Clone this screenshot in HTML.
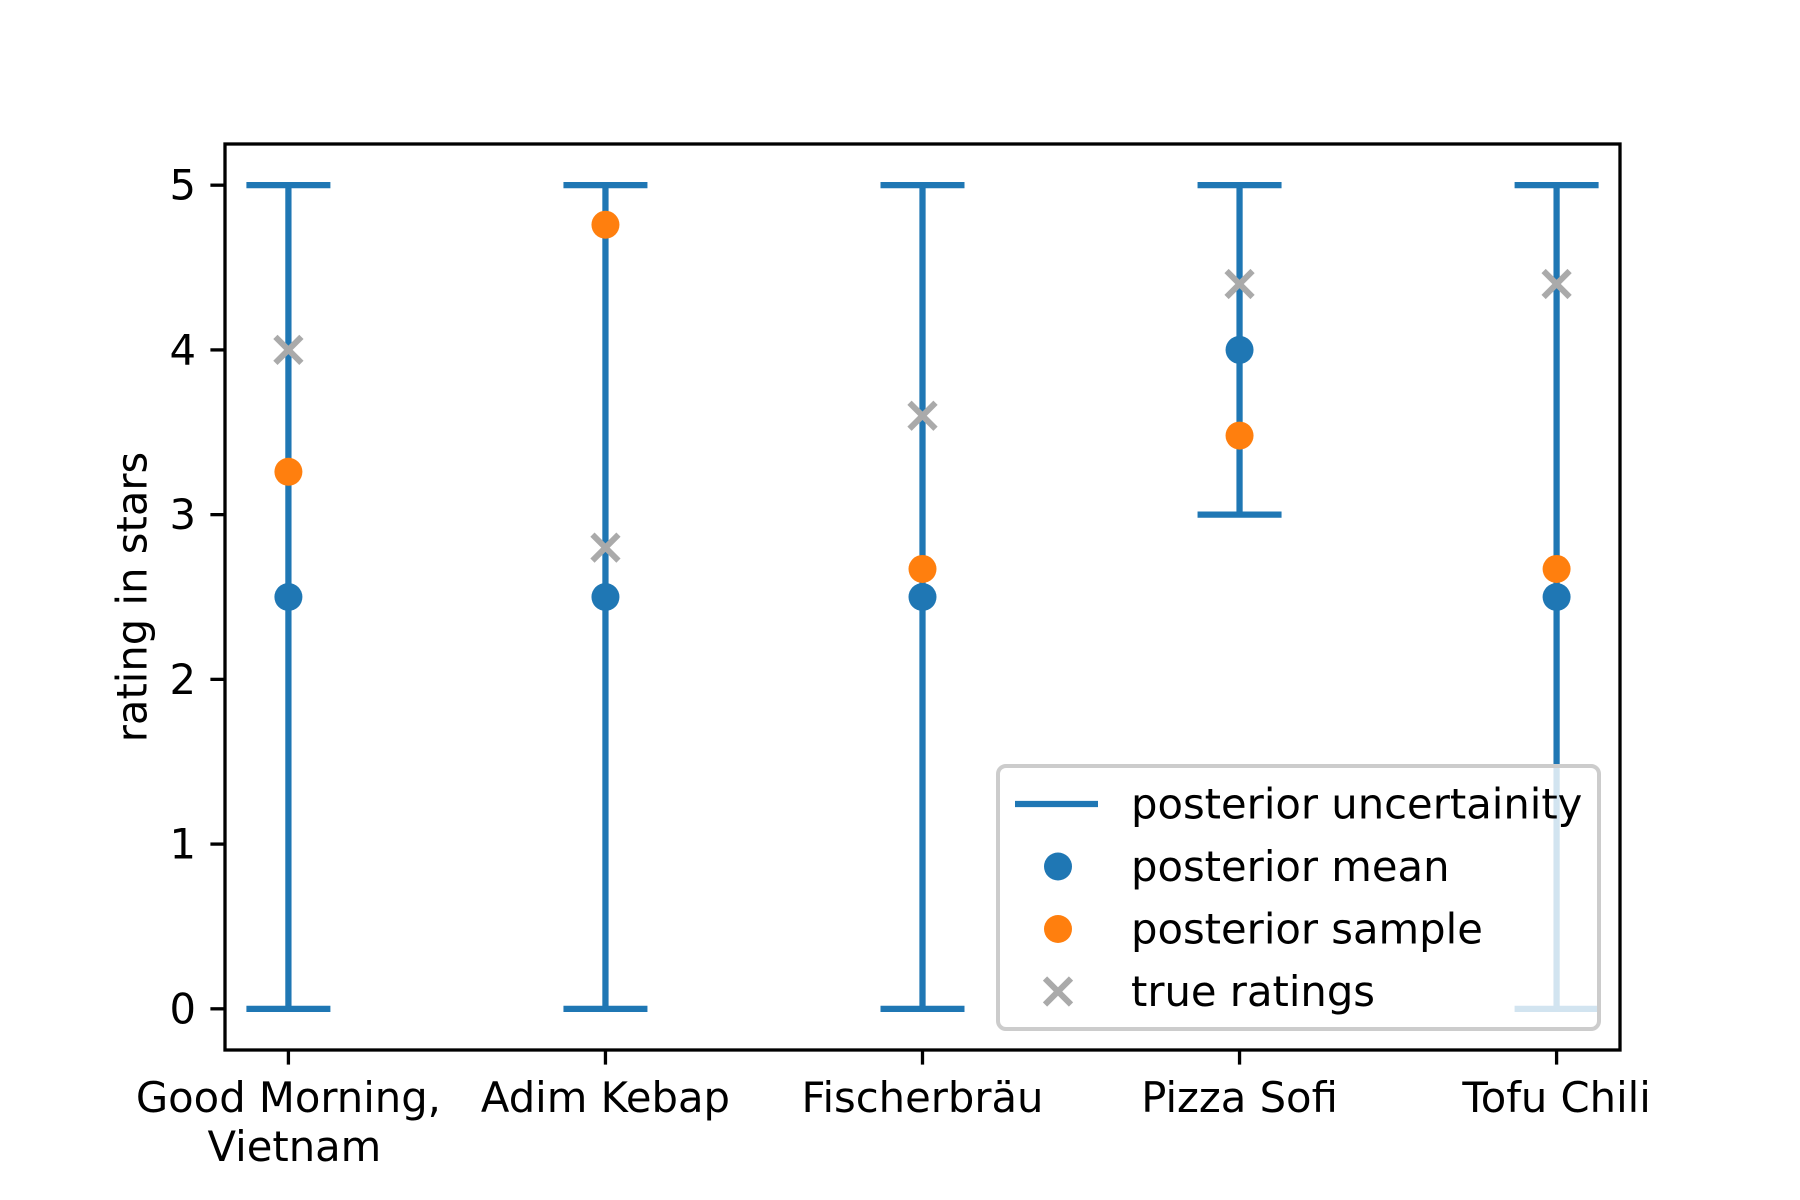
<!DOCTYPE html>
<html><head><meta charset="utf-8"><style>
html,body{margin:0;padding:0;background:#fff;}
svg{display:block;font-family:"DejaVu Sans","Liberation Sans",sans-serif;}
</style></head><body>
<svg id="chart" width="1800" height="1200" viewBox="0 0 1800 1200" xmlns="http://www.w3.org/2000/svg">
<rect width="1800" height="1200" fill="#fff"/>
<g id="plot"></g>
<text transform="translate(132,597) rotate(-90)" text-anchor="middle" dominant-baseline="central" font-size="41.7">rating in stars</text>
<g id="legend"></g>
</svg>
<script>
const categories = [["Good Morning,","Vietnam"],["Adim Kebap"],["Fischerbräu"],["Pizza Sofi"],["Tofu Chili"]];
const meanValues = [2.5, 2.5, 2.5, 4.0, 2.5];
const lowerValues = [0, 0, 0, 3, 0];
const upperValues = [5, 5, 5, 5, 5];
const sampleValues = [3.26, 4.76, 2.67, 3.48, 2.67];
const trueValues = [4.0, 2.8, 3.6, 4.4, 4.4];
const yTicks = [0, 1, 2, 3, 4, 5];

const L=225,R=1620,T=144,B=1050;
const xMin=-0.2,xMax=4.2,yMin=-0.25,yMax=5.25;
const xs=i=>L+(i-xMin)/(xMax-xMin)*(R-L);
const ys=v=>B-(v-yMin)/(yMax-yMin)*(B-T);
const NS="http://www.w3.org/2000/svg";
const plot=document.getElementById('plot');
function mk(tag,attrs,parent){const e=document.createElementNS(NS,tag);for(const k in attrs)e.setAttribute(k,attrs[k]);(parent||plot).appendChild(e);return e;}
const blue="#1f77b4",orange="#ff7f0e",gray="#aaaaaa";

yTicks.forEach(v=>{
  const t=mk('line',{x1:L-14.6,x2:L,y1:ys(v),y2:ys(v),stroke:'#000','stroke-width':3.3});
  
  
  const tx=mk('text',{x:L-29,y:ys(v),'text-anchor':'end','dominant-baseline':'central','font-size':41.7});
  tx.textContent=v;
  
  
});
categories.forEach((c,i)=>{
  const x=xs(i);
  const t=mk('line',{x1:x,x2:x,y1:B,y2:B+14.6,stroke:'#000','stroke-width':3.3});
  
  
  c.forEach((line,j)=>{
    const tx=mk('text',{x:x+(j>0?6:0),y:1112+j*49,'text-anchor':'middle','font-size':41.7});
    tx.textContent=line;
    
    
  });
});
categories.forEach((c,i)=>{
  const x=xs(i);
  const g=mk('g',{});
  
  
  mk('line',{x1:x,x2:x,y1:ys(lowerValues[i]),y2:ys(upperValues[i]),stroke:blue,'stroke-width':6.25},g);
  mk('line',{x1:x-42,x2:x+42,y1:ys(lowerValues[i]),y2:ys(lowerValues[i]),stroke:blue,'stroke-width':6.25},g);
  mk('line',{x1:x-42,x2:x+42,y1:ys(upperValues[i]),y2:ys(upperValues[i]),stroke:blue,'stroke-width':6.25},g);
});
meanValues.forEach((v,i)=>{
  const c=mk('circle',{cx:xs(i),cy:ys(v),r:14,fill:blue});
  
  
});
sampleValues.forEach((v,i)=>{
  const c=mk('circle',{cx:xs(i),cy:ys(v),r:14,fill:orange});
  
  
});
function cross(x,y,parent){
  const g=mk('g',{},parent);
  mk('line',{x1:x-13,y1:y-13,x2:x+13,y2:y+13,stroke:gray,'stroke-width':6},g);
  mk('line',{x1:x-13,y1:y+13,x2:x+13,y2:y-13,stroke:gray,'stroke-width':6},g);
  return g;
}
trueValues.forEach((v,i)=>{
  const g=cross(xs(i),ys(v));
  
  
});
const sp=mk('rect',{x:L,y:T,width:R-L,height:B-T,fill:'none',stroke:'#000','stroke-width':3.3});



const lg=document.getElementById('legend');
mk('rect',{x:998,y:766,width:601,height:263,rx:8,fill:'#fff','fill-opacity':0.8,stroke:'#cccccc','stroke-width':4},lg);
const rows=[804,866.5,929,991.5];
const labels=["posterior uncertainity","posterior mean","posterior sample","true ratings"];
mk('line',{x1:1015,x2:1098,y1:rows[0],y2:rows[0],stroke:blue,'stroke-width':6.25},lg);
mk('circle',{cx:1058,cy:rows[1],r:14,fill:blue},lg);
mk('circle',{cx:1058,cy:rows[2],r:14,fill:orange},lg);
cross(1058,rows[3],lg);
labels.forEach((s,i)=>{
  const t=mk('text',{x:1131,y:rows[i],'dominant-baseline':'central','font-size':41.7},lg);
  t.textContent=s;
  
  
});
</script>
</body></html>
